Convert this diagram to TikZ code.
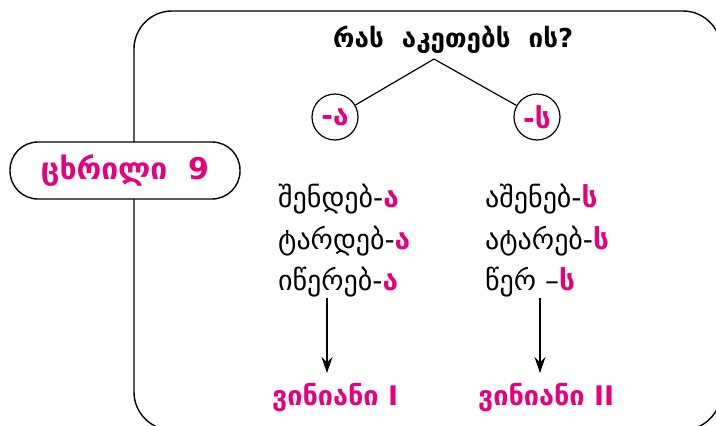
\documentclass[tikz,border=0pt]{standalone}
\usepackage{fontspec}
\setmainfont{DejaVu Sans}
\usetikzlibrary{arrows.meta}
\definecolor{suffpink}{RGB}{230,0,126}
\newcommand{\suff}[1]{{\color{suffpink}\bfseries #1}}
\begin{document}
\begin{tikzpicture}[
    x=1pt, y=-1pt,
    frame/.style={draw, line width=1.4pt, rounded corners=38pt},
    tablebox/.style={draw, line width=1.4pt, fill=white, rounded corners=28pt,
                     minimum width=230pt, minimum height=57pt, inner sep=0pt,
                     font=\fontsize{30}{34}\selectfont\bfseries, text=suffpink},
    ending/.style={draw, circle, line width=1.2pt, minimum size=46pt, inner sep=0pt,
                   font=\fontsize{28}{32}\selectfont\bfseries, text=suffpink},
    question/.style={anchor=base west, inner sep=0pt, font=\fontsize{26}{30}\selectfont\bfseries},
    verb/.style={anchor=base west, inner sep=0pt, font=\fontsize{28}{32}\selectfont},
    variant/.style={anchor=base west, inner sep=0pt, font=\fontsize{27}{31}\selectfont\bfseries, text=suffpink},
    arr/.style={-{Stealth[length=16pt, width=11pt]}, line width=1.2pt},
    branch/.style={line width=1.2pt},
  ]
    \useasboundingbox (0,0) rectangle (716,426);
    \draw[frame] (134,11) rectangle (721,430);
    \node[tablebox] (table) at (125,170.5) {ცხრილი~~9};

    % question and the two endings
    \node[question] (q) at (333,47) {რას~~აკეთებს~~ის?};
    \coordinate (top) at (434,59);
    \node[ending] (ea) at (335,117) {-ა};
    \node[ending] (es) at (537,117) {-ს};
    \draw[branch] (top) -- (ea);
    \draw[branch] (top) -- (es);

    % verb columns
    \node[verb] (a1) at (278,207) {შენდებ-\suff{ა}};
    \node[verb] (a2) at (278,249) {ტარდებ-\suff{ა}};
    \node[verb] (a3) at (278,290) {იწერებ-\suff{ა}};
    \node[verb] (s1) at (485,207) {აშენებ-\suff{ს}};
    \node[verb] (s2) at (485,249) {ატარებ-\suff{ს}};
    \node[verb] (s3) at (485,290) {წერ –\suff{ს}};

    \node[variant] (v1) at (272,405) {ვინიანი I};
    \node[variant] (v2) at (478,405) {ვინიანი II};

    \coordinate (xa) at (327,0);
    \coordinate (xs) at (540,0);
    \draw[arr] ([yshift=-8pt]a3.base -| xa) -- ([yshift=32pt]v1.base -| xa);
    \draw[arr] ([yshift=-8pt]s3.base -| xs) -- ([yshift=32pt]v2.base -| xs);
  \end{tikzpicture}
\end{document}
